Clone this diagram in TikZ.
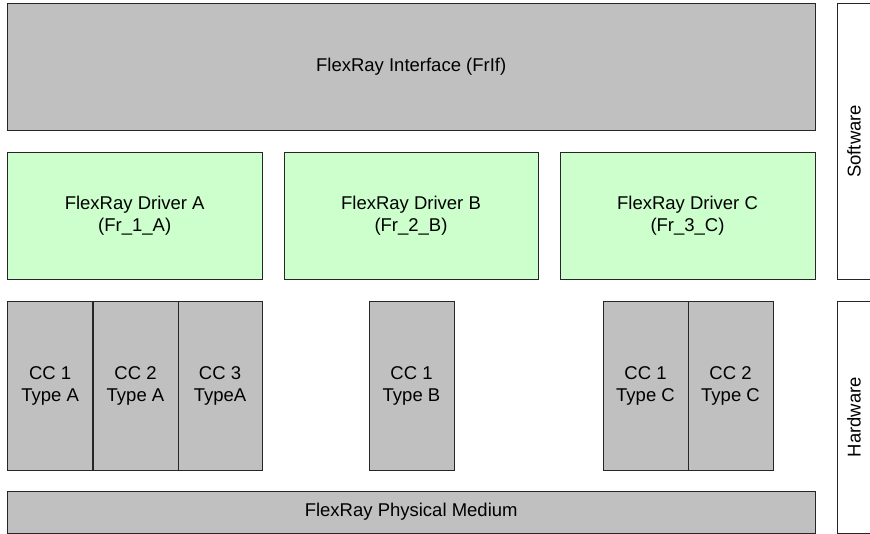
\documentclass[tikz,border=0pt]{standalone}
\usepackage{fontspec}
\setmainfont{Liberation Sans}
\usepackage{tikz}
\usetikzlibrary{positioning}
\definecolor{layergray}{HTML}{C0C0C0}
\definecolor{drvgreen}{HTML}{CCFFCC}
\tikzset{
  box/.style={draw=black!85,line width=0.9pt,inner sep=0pt,outer sep=0pt,
    align=center,font=\fontsize{18.5}{22}\selectfont},
  layer/.style={box,fill=layergray},
  driver/.style={box,fill=drvgreen},
  ctrl/.style={box,fill=layergray,minimum width=85pt,minimum height=169pt},
  side/.style={box,fill=white,minimum width=34pt}
}
\begin{document}
\begin{tikzpicture}[x=1pt,y=-1pt]
  \useasboundingbox (0,0) rectangle (870,534);
  % software layers
  \node[layer,minimum width=807.7pt,minimum height=126.3pt] (frif) at (411.2,66.9)
    {FlexRay Interface (FrIf)};
  \node[driver,minimum width=254.7pt,minimum height=127pt] (drvA) at (134.7,215.5)
    {FlexRay Driver A\\(Fr\_1\_A)};
  \node[driver,minimum width=254pt,minimum height=127pt] (drvB) at (411,215.5)
    {FlexRay Driver B\\(Fr\_2\_B)};
  \node[driver,minimum width=255pt,minimum height=127pt] (drvC) at (687.5,215.5)
    {FlexRay Driver C\\(Fr\_3\_C)};
  % communication controllers
  \node[ctrl] (ccAa) at (50.2,385.5) {CC 1\\Type A};
  \node[ctrl] (ccAb) at (135.5,385.5) {CC 2\\Type A};
  \node[ctrl,minimum width=84pt] (ccAc) at (220,385.5) {CC 3\\TypeA};
  \node[ctrl] (ccBa) at (411.5,385.5) {CC 1\\Type B};
  \node[ctrl] (ccCa) at (645.5,385.5) {CC 1\\Type C};
  \node[ctrl] (ccCb) at (730.5,385.5) {CC 2\\Type C};
  \node[layer,minimum width=807.7pt,minimum height=42pt] (phy) at (411.2,512)
    {FlexRay Physical Medium};
  % side labels
  \node[side,minimum height=275.3pt] (sw) at (854,141.4) {};
  \node[rotate=90,font=\fontsize{18.5}{22}\selectfont] at (sw.center) {Software};
  \node[side,minimum height=232pt] (hw) at (854,417) {};
  \node[rotate=90,font=\fontsize{18.5}{22}\selectfont] at (hw.center) {Hardware};
\end{tikzpicture}
\end{document}
